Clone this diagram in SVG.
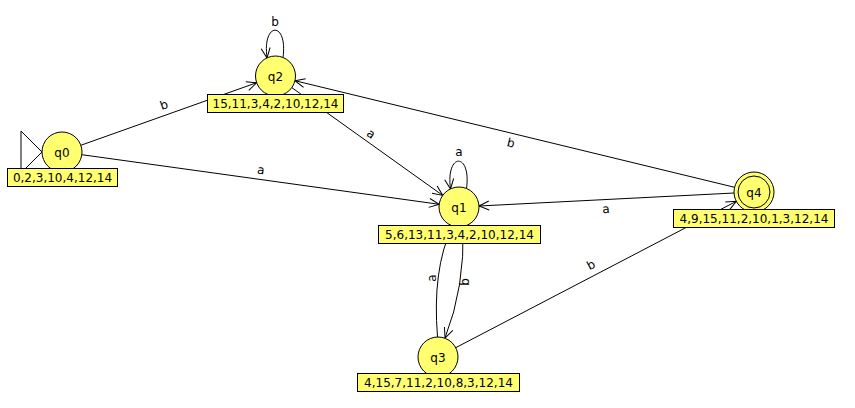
<svg xmlns="http://www.w3.org/2000/svg" width="855" height="408" viewBox="0 0 855 408">
<defs>
<marker id="arr" markerUnits="userSpaceOnUse" markerWidth="14" markerHeight="12" viewBox="-12 -6 14 12" refX="0" refY="0" orient="auto">
<path d="M -10,-4.5 L 0,0 L -10,4.5" fill="none" stroke="#000" stroke-width="1"/>
</marker>
<style>
.e{fill:none;stroke:#000;stroke-width:1;marker-end:url(#arr)}
.st{fill:#ffff70;stroke:#000;stroke-width:1}
.lb{fill:#ffff70;stroke:#000;stroke-width:1}
.t{font-family:"DejaVu Sans","Noto Sans",sans-serif;font-size:12px;fill:#000;text-anchor:middle}
</style>
</defs>
<rect width="855" height="408" fill="#fff"/>
<g id="connectors">
<path class="e" d="M 80.8,145.3 L 256.7,82.7"/>
<text class="t" transform="translate(164,105) rotate(-19.6)" y="4">b</text>
<path class="e" d="M 81.8,154.7 L 439.2,204.3"/>
<text class="t" transform="translate(261,170) rotate(7.9)" y="4">a</text>
<path class="e" d="M 291.8,87.6 L 442.7,195.4"/>
<text class="t" transform="translate(371,134) rotate(35.5)" y="4">a</text>
<path class="e" d="M 734.6,187.3 L 294.9,80.7"/>
<text class="t" transform="translate(511,143) rotate(13.6)" y="4">b</text>
<path class="e" d="M 734,193 L 479,206"/>
<text class="t" transform="translate(606,209) rotate(-2.9)" y="4">a</text>
<path class="e" d="M 455.7,347.7 L 736.3,201.3"/>
<text class="t" transform="translate(591,265) rotate(-27.6)" y="4">b</text>
<path class="e" d="M 463,227 Q 465,287 445,338"/>
<text class="t" transform="translate(465,282) rotate(-90)" y="4">b</text>
<path class="e" d="M 437.5,337 Q 432,270 452,227"/>
<text class="t" transform="translate(432,278) rotate(-90)" y="4">a</text>
<path class="e" d="M 283,57.5 C 288,21 262,21 267,58"/>
<text class="t" x="275" y="26">b</text>
<path class="e" d="M 466.5,188.5 C 471.5,152 445.5,152 450.5,189"/>
<text class="t" x="459" y="156">a</text>
</g>
<g id="q0">
<path d="M 21,131 L 42,152 L 21,173 Z" fill="none" stroke="#000"/>
<circle class="st" cx="62" cy="152" r="20"/>
<text class="t" x="62" y="156.5">q0</text>
<rect class="lb" x="7.5" y="168.5" width="110" height="18"/>
<text class="t" x="62.5" y="182">0,2,3,10,4,12,14</text>
</g>
<g id="q2">
<circle class="st" cx="275.5" cy="76" r="20"/>
<text class="t" x="275.5" y="80.5">q2</text>
<rect class="lb" x="207.5" y="94.5" width="136" height="18"/>
<text class="t" x="275.5" y="108">15,11,3,4,2,10,12,14</text>
</g>
<g id="q1">
<circle class="st" cx="459" cy="207" r="20"/>
<text class="t" x="459" y="211.5">q1</text>
<rect class="lb" x="378.5" y="225.5" width="162" height="18"/>
<text class="t" x="459.5" y="239">5,6,13,11,3,4,2,10,12,14</text>
</g>
<g id="q4">
<circle class="st" cx="754" cy="192" r="20"/>
<circle cx="754" cy="192" r="16" fill="none" stroke="#000"/>
<text class="t" x="754" y="196.5">q4</text>
<rect class="lb" x="673.5" y="209.5" width="161" height="18"/>
<text class="t" x="754" y="223">4,9,15,11,2,10,1,3,12,14</text>
</g>
<g id="q3">
<circle class="st" cx="438" cy="357" r="20"/>
<text class="t" x="438" y="361.5">q3</text>
<rect class="lb" x="357.5" y="373.5" width="162" height="18"/>
<text class="t" x="438.5" y="387">4,15,7,11,2,10,8,3,12,14</text>
</g>
</svg>
